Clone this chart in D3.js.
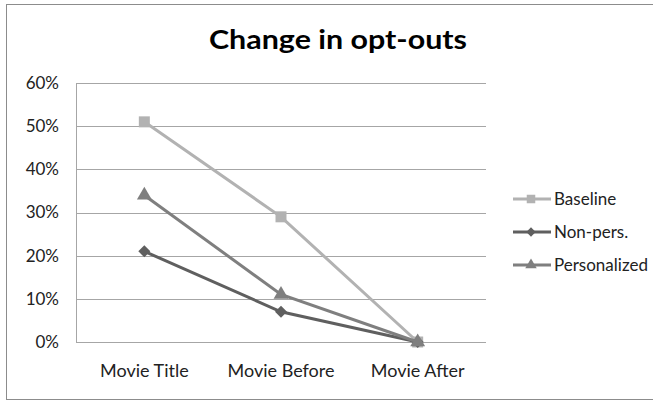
<!DOCTYPE html>
<html><head><meta charset="utf-8">
<script src="https://cdn.jsdelivr.net/npm/d3@7"></script>
<style>body{margin:0;background:#fff}svg{display:block}</style>
</head><body>
<svg id="c" width="653" height="401"></svg>
<script>
const categories = ["Movie Title", "Movie Before", "Movie After"];
const seriesNames = ["Baseline", "Non-pers.", "Personalized"];
const baseline = [0.51, 0.29, 0.0];
const nonPers = [0.21, 0.07, 0.0];
const personalized = [0.34, 0.11, 0.0];
const yTicks = [0, 0.1, 0.2, 0.3, 0.4, 0.5, 0.6];
const title = "Change in opt-outs";

const diamond = {draw(ctx, size) { const r = Math.sqrt(size / 2); ctx.moveTo(0, -r); ctx.lineTo(r, 0); ctx.lineTo(0, r); ctx.lineTo(-r, 0); ctx.closePath(); }};
const series = [
  {name: seriesNames[0], values: baseline, color: "#b2b2b2", symbol: d3.symbolSquare, size: 121},
  {name: seriesNames[1], values: nonPers, color: "#5f5f5f", symbol: diamond, size: 72},
  {name: seriesNames[2], values: personalized, color: "#7f7f7f", symbol: d3.symbolTriangle, size: 95}
];

const svg = d3.select("#c");
const font = "Lato, 'Open Sans', 'Liberation Sans', sans-serif";
svg.append("rect").attr("x", 6.5).attr("y", 4.5).attr("width", 660).attr("height", 395)
  .attr("fill", "#fff").attr("stroke", "#8c8c8c").attr("stroke-width", 1);

svg.append("text").attr("x", 338).attr("y", 49).attr("text-anchor", "middle")
  .attr("font-family", font).attr("font-weight", "bold").attr("font-size", 26).attr("fill", "#000")
  .attr("textLength", 258).attr("lengthAdjust", "spacingAndGlyphs")
  .text(title);

const L = 76, R = 486, T = 83, B = 342;
const x = d3.scaleBand().domain(categories).range([L, R]);
const y = d3.scaleLinear().domain([0, 0.6]).range([B, T]);

const g = svg.append("g");
g.selectAll("line.grid").data(yTicks).join("line")
  .attr("x1", L).attr("x2", R).attr("y1", d => Math.round(y(d)) + 0.5).attr("y2", d => Math.round(y(d)) + 0.5)
  .attr("stroke", "#a6a6a6").attr("stroke-width", 1);
g.append("line").attr("x1", L + 0.5).attr("x2", L + 0.5).attr("y1", T).attr("y2", B)
  .attr("stroke", "#a6a6a6");

const yAxis = d3.axisLeft(y).tickValues(yTicks).tickFormat(d3.format(".0%")).tickSize(0).tickPadding(17);
const ya = svg.append("g").attr("transform", `translate(${L},0)`).call(yAxis);
ya.select(".domain").remove();
ya.selectAll("text").attr("font-family", font).attr("font-size", 17).attr("fill", "#222");

const xAxis = d3.axisBottom(x).tickSize(0);
const xa = svg.append("g").attr("transform", `translate(0,${B})`).call(xAxis);
xa.select(".domain").remove();
xa.selectAll("text").attr("y", 35).attr("dy", 0).attr("font-family", font).attr("font-size", 18).attr("fill", "#222");

const cx = c => x(c) + x.bandwidth() / 2;
const line = d3.line().x((d, i) => cx(categories[i])).y(d => y(d));

series.forEach(s => {
  svg.append("path").attr("d", line(s.values)).attr("fill", "none")
    .attr("stroke", s.color).attr("stroke-width", 3);
  svg.selectAll(null).data(s.values).join("path")
    .attr("d", d3.symbol().type(s.symbol).size(s.size))
    .attr("transform", (d, i) => `translate(${cx(categories[i])},${y(d)})`)
    .attr("fill", s.color);
});

const leg = svg.append("g");
const legY = [199, 232, 265];
series.forEach((s, i) => {
  const gy = legY[i];
  leg.append("line").attr("x1", 513).attr("x2", 551).attr("y1", gy).attr("y2", gy)
    .attr("stroke", s.color).attr("stroke-width", 3);
  leg.append("path").attr("d", d3.symbol().type(s.symbol).size(s.size * 0.6))
    .attr("transform", `translate(531,${gy})`).attr("fill", s.color);
  leg.append("text").attr("x", 554).attr("y", gy + 6).attr("font-family", font)
    .attr("font-size", 17).attr("fill", "#222").text(s.name);
});
</script>
</body></html>
